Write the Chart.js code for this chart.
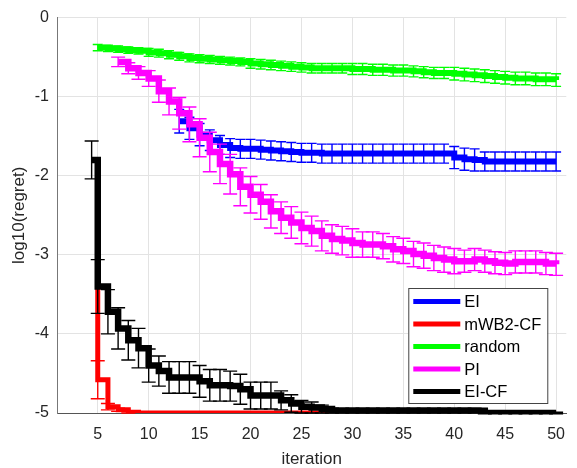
<!DOCTYPE html>
<html>
<head>
<meta charset="utf-8">
<script src="https://cdn.jsdelivr.net/npm/chart.js@4"></script>
<style>
  html, body { margin: 0; padding: 0; background: #fff; }
  #wrap { width: 577px; height: 468px; }
</style>
</head>
<body>
<div id="wrap"><canvas id="chart_div" width="577" height="468"></canvas></div>
<script>
// tick labels
const xTicks = [5, 10, 15, 20, 25, 30, 35, 40, 45, 50];
const yTicks = [-5, -4, -3, -2, -1, 0];

// EI
const iterEI = [13, 14, 15, 16, 17, 18, 19, 20, 21, 22, 23, 24, 25, 26, 27, 28, 29, 30, 31, 32, 33, 34, 35, 36, 37, 38, 39, 40, 41, 42, 43, 44, 45, 46, 47, 48, 49, 50];
const meanEI = [-1.31, -1.40, -1.48, -1.55, -1.61, -1.65, -1.66, -1.66, -1.67, -1.68, -1.69, -1.70, -1.71, -1.71,
  -1.72, -1.72, -1.72, -1.72, -1.72, -1.72, -1.72, -1.72, -1.72, -1.72, -1.72, -1.72, -1.72,
  -1.77, -1.79, -1.80, -1.82, -1.82, -1.82, -1.82, -1.82, -1.82, -1.82, -1.82];
const errEI = [0.15, 0.14, 0.14, 0.13, 0.12, 0.12, 0.12, 0.12, 0.12, 0.12, 0.12, 0.12, 0.12, 0.12,
  0.12, 0.12, 0.12, 0.12, 0.12, 0.12, 0.12, 0.12, 0.12, 0.12, 0.12, 0.12, 0.12,
  0.14, 0.14, 0.14, 0.12, 0.12, 0.12, 0.12, 0.12, 0.12, 0.12, 0.12];

// mWB2-CF
const iterWB = [4.9, 5, 6, 7, 8, 9, 10, 11, 12, 13, 14, 15, 16, 17, 18, 19, 20, 21, 22, 23, 24, 25, 26, 27, 28, 29, 30, 31, 32, 33, 34, 35, 36, 37, 38, 39, 40, 41, 42, 43, 44, 45, 46, 47, 48, 49, 50];
const meanWB = [-3.42, -4.58, -4.92, -4.96, -4.99, -5, -5, -5, -5, -5, -5, -5, -5, -5, -5, -5, -5, -5, -5, -5, -5, -5, -5, -5, -5, -5, -5, -5, -5, -5, -5, -5, -5, -5, -5, -5, -5, -5, -5, -5, -5, -5, -5, -5, -5, -5, -5];
const errWB = [0, 0.24, 0.04, 0.02, 0.01, 0, 0, 0, 0, 0, 0, 0, 0, 0, 0, 0, 0, 0, 0, 0, 0, 0, 0, 0, 0, 0, 0, 0, 0, 0, 0, 0, 0, 0, 0, 0, 0, 0, 0, 0, 0, 0, 0, 0, 0, 0, 0];

// random
const iterRand = [5, 6, 7, 8, 9, 10, 11, 12, 13, 14, 15, 16, 17, 18, 19, 20, 21, 22, 23, 24, 25, 26, 27, 28, 29, 30, 31, 32, 33, 34, 35, 36, 37, 38, 39, 40, 41, 42, 43, 44, 45, 46, 47, 48, 49, 50];
const meanRand = [-0.38, -0.39, -0.40, -0.41, -0.42, -0.44, -0.45, -0.47, -0.49, -0.51, -0.52, -0.53, -0.54, -0.55, -0.56,
  -0.58, -0.59, -0.60, -0.61, -0.62, -0.63, -0.64, -0.64, -0.64, -0.64, -0.65, -0.65, -0.66, -0.66, -0.67,
  -0.67, -0.68, -0.69, -0.70, -0.70, -0.71, -0.72, -0.73, -0.74, -0.75, -0.76, -0.77, -0.77, -0.78, -0.78, -0.79];
const errRand = [0.04, 0.04, 0.04, 0.04, 0.04, 0.05, 0.05, 0.05, 0.05, 0.05, 0.05, 0.05, 0.05, 0.05, 0.05,
  0.06, 0.06, 0.06, 0.06, 0.06, 0.06, 0.06, 0.06, 0.06, 0.06, 0.07, 0.07, 0.07, 0.07, 0.07,
  0.07, 0.07, 0.07, 0.07, 0.07, 0.08, 0.08, 0.08, 0.08, 0.08, 0.08, 0.08, 0.08, 0.08, 0.08, 0.08];

// PI
const iterPI = [7, 8, 9, 10, 11, 12, 13, 14, 15, 16, 17, 18, 19, 20, 21, 22, 23, 24, 25, 26, 27, 28, 29, 30, 31, 32, 33, 34, 35, 36, 37, 38, 39, 40, 41, 42, 43, 44, 45, 46, 47, 48, 49, 50];
const meanPI = [-0.56, -0.64, -0.70, -0.77, -0.93, -1.06, -1.21, -1.35, -1.52, -1.70, -1.85, -1.98, -2.14, -2.24,
  -2.33, -2.45, -2.53, -2.59, -2.66, -2.70, -2.76, -2.80, -2.82, -2.85,
  -2.87, -2.87, -2.89, -2.93, -2.95, -2.99, -3.01, -3.04, -3.06, -3.08,
  -3.08, -3.06, -3.08, -3.10, -3.11, -3.09, -3.09, -3.09, -3.11, -3.12];
const errPI = [0.06, 0.07, 0.08, 0.10, 0.14, 0.17, 0.20, 0.22, 0.24, 0.25, 0.25, 0.25, 0.24, 0.23,
  0.22, 0.21, 0.20, 0.20, 0.20, 0.19, 0.19, 0.18, 0.18, 0.18,
  0.16, 0.16, 0.16, 0.16, 0.16, 0.16, 0.16, 0.16, 0.16, 0.16,
  0.14, 0.14, 0.14, 0.14, 0.14, 0.14, 0.14, 0.14, 0.14, 0.14];

// EI-CF
const iterCF = [4.4, 5, 6, 7, 8, 9, 10, 11, 12, 13, 14, 15, 16, 17, 18, 19, 20, 21, 22, 23, 24, 25, 26, 27, 28, 29, 30, 31, 32, 33, 34, 35, 36, 37, 38, 39, 40, 41, 42, 43, 44, 45, 46, 47, 48, 49, 50];
const meanCF = [-1.80, -3.40, -3.72, -3.93, -4.08, -4.18, -4.40, -4.47, -4.55, -4.55, -4.55, -4.60, -4.65, -4.65, -4.66, -4.70,
  -4.78, -4.78, -4.78, -4.84, -4.88, -4.92, -4.93, -4.95,
  -4.97, -4.97, -4.97, -4.97, -4.97, -4.97, -4.97, -4.97, -4.97, -4.97, -4.97, -4.97, -4.97, -4.97, -4.97,
  -5, -5, -5, -5, -5, -5, -5, -5];
const errCF = [0.24, 0.34, 0.28, 0.26, 0.25, 0.25, 0.21, 0.19, 0.20, 0.20, 0.20, 0.20, 0.20, 0.20, 0.19, 0.19,
  0.17, 0.17, 0.17, 0.12, 0.11, 0.08, 0.07, 0.05,
  0.03, 0.03, 0.03, 0.03, 0.03, 0.03, 0.03, 0.03, 0.03, 0.03, 0.03, 0.03, 0.03, 0.03, 0.03,
  0.01, 0.01, 0.01, 0.01, 0.01, 0.01, 0.01, 0.01];

const pts = (xs, ys) => xs.map((x, i) => ({ x: x, y: ys[i] }));

function series(label, xs, ys, errs, color, order, cap, width) {
  return {
    label: label,
    data: pts(xs, ys),
    errors: errs,
    capHalf: cap,
    borderColor: color,
    backgroundColor: color,
    borderWidth: width,
    stepped: true,
    pointRadius: 0,
    fill: false,
    order: order
  };
}

const FONT = '"Liberation Sans", Arial, Helvetica, sans-serif';

// error bars drawn right after each line, through the scales
const errorBars = {
  id: 'errorBars',
  afterDatasetDraw(chart, args) {
    const ds = chart.data.datasets[args.index];
    if (!ds.errors) return;
    const xs = chart.scales.x, ys = chart.scales.y;
    const ctx = chart.ctx;
    const a = chart.chartArea;
    ctx.save();
    ctx.beginPath();
    ctx.rect(a.left, a.top - 5, a.right - a.left + 5, a.bottom - a.top + 10);
    ctx.clip();
    ctx.strokeStyle = ds.borderColor;
    ctx.lineWidth = 1.4;
    ds.data.forEach((p, i) => {
      const e = ds.errors[i];
      if (!e) return;
      const px = xs.getPixelForValue(p.x);
      const top = ys.getPixelForValue(p.y + e);
      const bot = ys.getPixelForValue(p.y - e);
      const c = ds.capHalf;
      ctx.beginPath();
      ctx.moveTo(px, top); ctx.lineTo(px, bot);
      ctx.moveTo(px - c, top); ctx.lineTo(px + c, top);
      ctx.moveTo(px - c, bot); ctx.lineTo(px + c, bot);
      ctx.stroke();
    });
    ctx.restore();
  }
};

// boxed legend in the lower right of the axes
const boxLegend = {
  id: 'boxLegend',
  afterDraw(chart) {
    const ctx = chart.ctx;
    const a = chart.chartArea;
    const w = 139, h = 115;
    const x0 = a.right - 19 - w, y0 = a.bottom - 10 - h;
    ctx.save();
    ctx.fillStyle = '#fff';
    ctx.fillRect(x0, y0, w, h);
    ctx.strokeStyle = '#444';
    ctx.lineWidth = 1;
    ctx.strokeRect(x0 + 0.5, y0 + 0.5, w, h);
    ctx.font = '16.5px ' + FONT;
    ctx.textBaseline = 'middle';
    ctx.fillStyle = '#000';
    chart.data.datasets.forEach((ds, i) => {
      const y = y0 + 13.5 + i * 22.5;
      ctx.strokeStyle = ds.borderColor;
      ctx.lineWidth = 5;
      ctx.beginPath();
      ctx.moveTo(x0 + 5, y); ctx.lineTo(x0 + 52, y);
      ctx.stroke();
      ctx.fillText(ds.label, x0 + 56, y + 1);
    });
    ctx.restore();
  }
};

const ctx = document.getElementById('chart_div');
new Chart(ctx, {
  type: 'line',
  data: {
    datasets: [
      series('EI', iterEI, meanEI, errEI, '#0000ff', 5, 5, 6),
      series('mWB2-CF', iterWB, meanWB, errWB, '#ff0000', 4, 7, 5),
      series('random', iterRand, meanRand, errRand, '#00ff00', 3, 5, 6),
      series('PI', iterPI, meanPI, errPI, '#ff00ff', 2, 7, 6.5),
      series('EI-CF', iterCF, meanCF, errCF, '#000000', 1, 7, 6.5)
    ]
  },
  plugins: [errorBars, boxLegend],
  options: {
    responsive: false,
    animation: false,
    layout: { padding: { top: 16, right: 0, left: 0, bottom: 0 } },
    plugins: {
      legend: { display: false },
      tooltip: { enabled: false }
    },
    scales: {
      x: {
        type: 'linear',
        min: 1,
        max: 51,
        afterBuildTicks: (scale) => { scale.ticks = xTicks.map(v => ({ value: v })); },
        afterFit: (scale) => { scale.height = 55; },
        grid: { color: '#e3e3e3', drawTicks: false },
        border: { color: '#555' },
        ticks: { color: '#262626', font: { family: FONT, size: 16 }, padding: 12, maxRotation: 0 },
        title: { display: true, text: 'iteration', color: '#262626', font: { family: FONT, size: 17, lineHeight: 1 }, padding: { top: 0, bottom: 0 } }
      },
      y: {
        type: 'linear',
        min: -5,
        max: 0,
        afterBuildTicks: (scale) => { scale.ticks = yTicks.map(v => ({ value: v })); },
        afterFit: (scale) => { scale.width = 57; },
        grid: { color: '#e3e3e3', drawTicks: false },
        border: { color: '#777' },
        ticks: { color: '#262626', font: { family: FONT, size: 16 }, padding: 8 },
        title: { display: true, text: 'log10(regret)', color: '#262626', font: { family: FONT, size: 17, lineHeight: 1 }, padding: { top: 11, bottom: 0 } }
      }
    }
  }
});
</script>
</body>
</html>
